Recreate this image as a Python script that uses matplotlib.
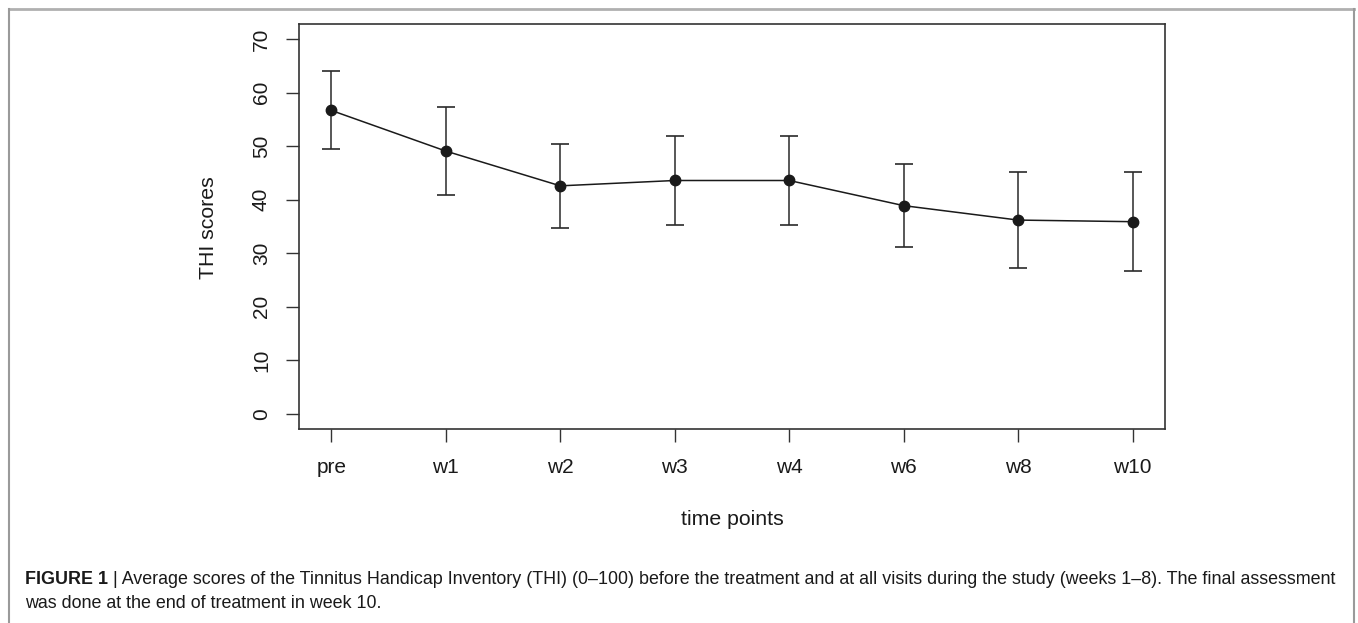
import numpy as np
import matplotlib
matplotlib.use("Agg")
import matplotlib.pyplot as plt
from matplotlib.lines import Line2D

plt.rcParams["font.family"] = ["Liberation Sans", "DejaVu Sans"]

# values
time_points = ["pre", "w1", "w2", "w3", "w4", "w6", "w8", "w10"]
mean_thi = [56.7, 49.1, 42.6, 43.6, 43.6, 38.9, 36.2, 35.9]
upper_thi = [64.1, 57.3, 50.4, 51.9, 51.9, 46.7, 45.2, 45.1]
lower_thi = [49.5, 40.9, 34.7, 35.2, 35.2, 31.1, 27.3, 26.7]
y_ticks = [0, 10, 20, 30, 40, 50, 60, 70]

caption_bold = "FIGURE 1"
caption_rest = (" | Average scores of the Tinnitus Handicap Inventory (THI) (0\u2013100) before the treatment "
                "and at all visits during the study (weeks 1\u20138). The final assessment")
caption_line2 = "was done at the end of treatment in week 10."


def main():
    W, H = 1358, 623
    fig = plt.figure(figsize=(W / 100, H / 100), dpi=100)

    # axes box in pixel terms
    left, right, top, bottom = 299.3, 1164.7, 24.3, 428.7
    ax = fig.add_axes([left / W, 1 - bottom / H, (right - left) / W, (bottom - top) / H])

    x = np.arange(1, len(time_points) + 1)
    mean = np.array(mean_thi)
    yerr = [mean - np.array(lower_thi), np.array(upper_thi) - mean]

    ax.errorbar(x, mean, yerr=yerr, fmt="none", ecolor="#2a2a2a", elinewidth=1.1,
                capsize=6.5, capthick=1.2, zorder=2)
    ax.plot(x, mean, color="#1a1a1a", linewidth=1.1, marker="o", markersize=7.5,
            markerfacecolor="#1a1a1a", markeredgecolor="#1a1a1a", zorder=3)

    # R-style 4% axis extension
    ax.set_xlim(1 - 0.04 * 7, 8 + 0.04 * 7)
    ax.set_ylim(0 - 0.04 * 70, 70 + 0.04 * 70)

    ax.set_xticks(x)
    ax.set_xticklabels(time_points)
    ax.set_yticks(y_ticks)
    ax.set_yticklabels([str(v) for v in y_ticks], rotation=90, va="center")

    ax.tick_params(axis="both", direction="out", length=9.4, width=1.0, color="#333333",
                   labelsize=15, labelcolor="#1a1a1a")
    ax.tick_params(axis="x", pad=12)
    ax.tick_params(axis="y", pad=11)

    for sp in ax.spines.values():
        sp.set_color("#333333")
        sp.set_linewidth(1.2)

    ax.set_xlabel("time points", fontsize=15.3, color="#1a1a1a")
    ax.xaxis.set_label_coords(0.5, -0.202)
    ax.set_ylabel("THI scores", fontsize=15.3, color="#1a1a1a")
    ax.yaxis.set_label_coords(-0.094, 0.496)

    # light grey frame around figure + caption
    fig.add_artist(Line2D([9, W - 4], [H - 9, H - 9], color="#b0b0b0", linewidth=2.0, transform=None))
    fig.add_artist(Line2D([9, 9], [H - 9, 0], color="#9a9a9a", linewidth=1.5, transform=None))
    fig.add_artist(Line2D([W - 4, W - 4], [H - 9, 0], color="#9a9a9a", linewidth=1.5, transform=None))

    # caption
    cap_size = 12.9
    t1 = fig.text(25 / W, 1 - 580 / H, caption_bold, fontsize=cap_size, fontweight="bold",
                  color="#1a1a1a", va="center", ha="left")
    fig.canvas.draw()
    bb = t1.get_window_extent()
    fig.text(bb.x1 / W, 1 - 580 / H, caption_rest, fontsize=cap_size, color="#1a1a1a",
             va="center", ha="left")
    fig.text(25 / W, 1 - 604 / H, caption_line2, fontsize=cap_size, color="#1a1a1a",
             va="center", ha="left")

    fig.savefig("out.png", dpi=100)
    plt.close(fig)


if __name__ == "__main__":
    main()
